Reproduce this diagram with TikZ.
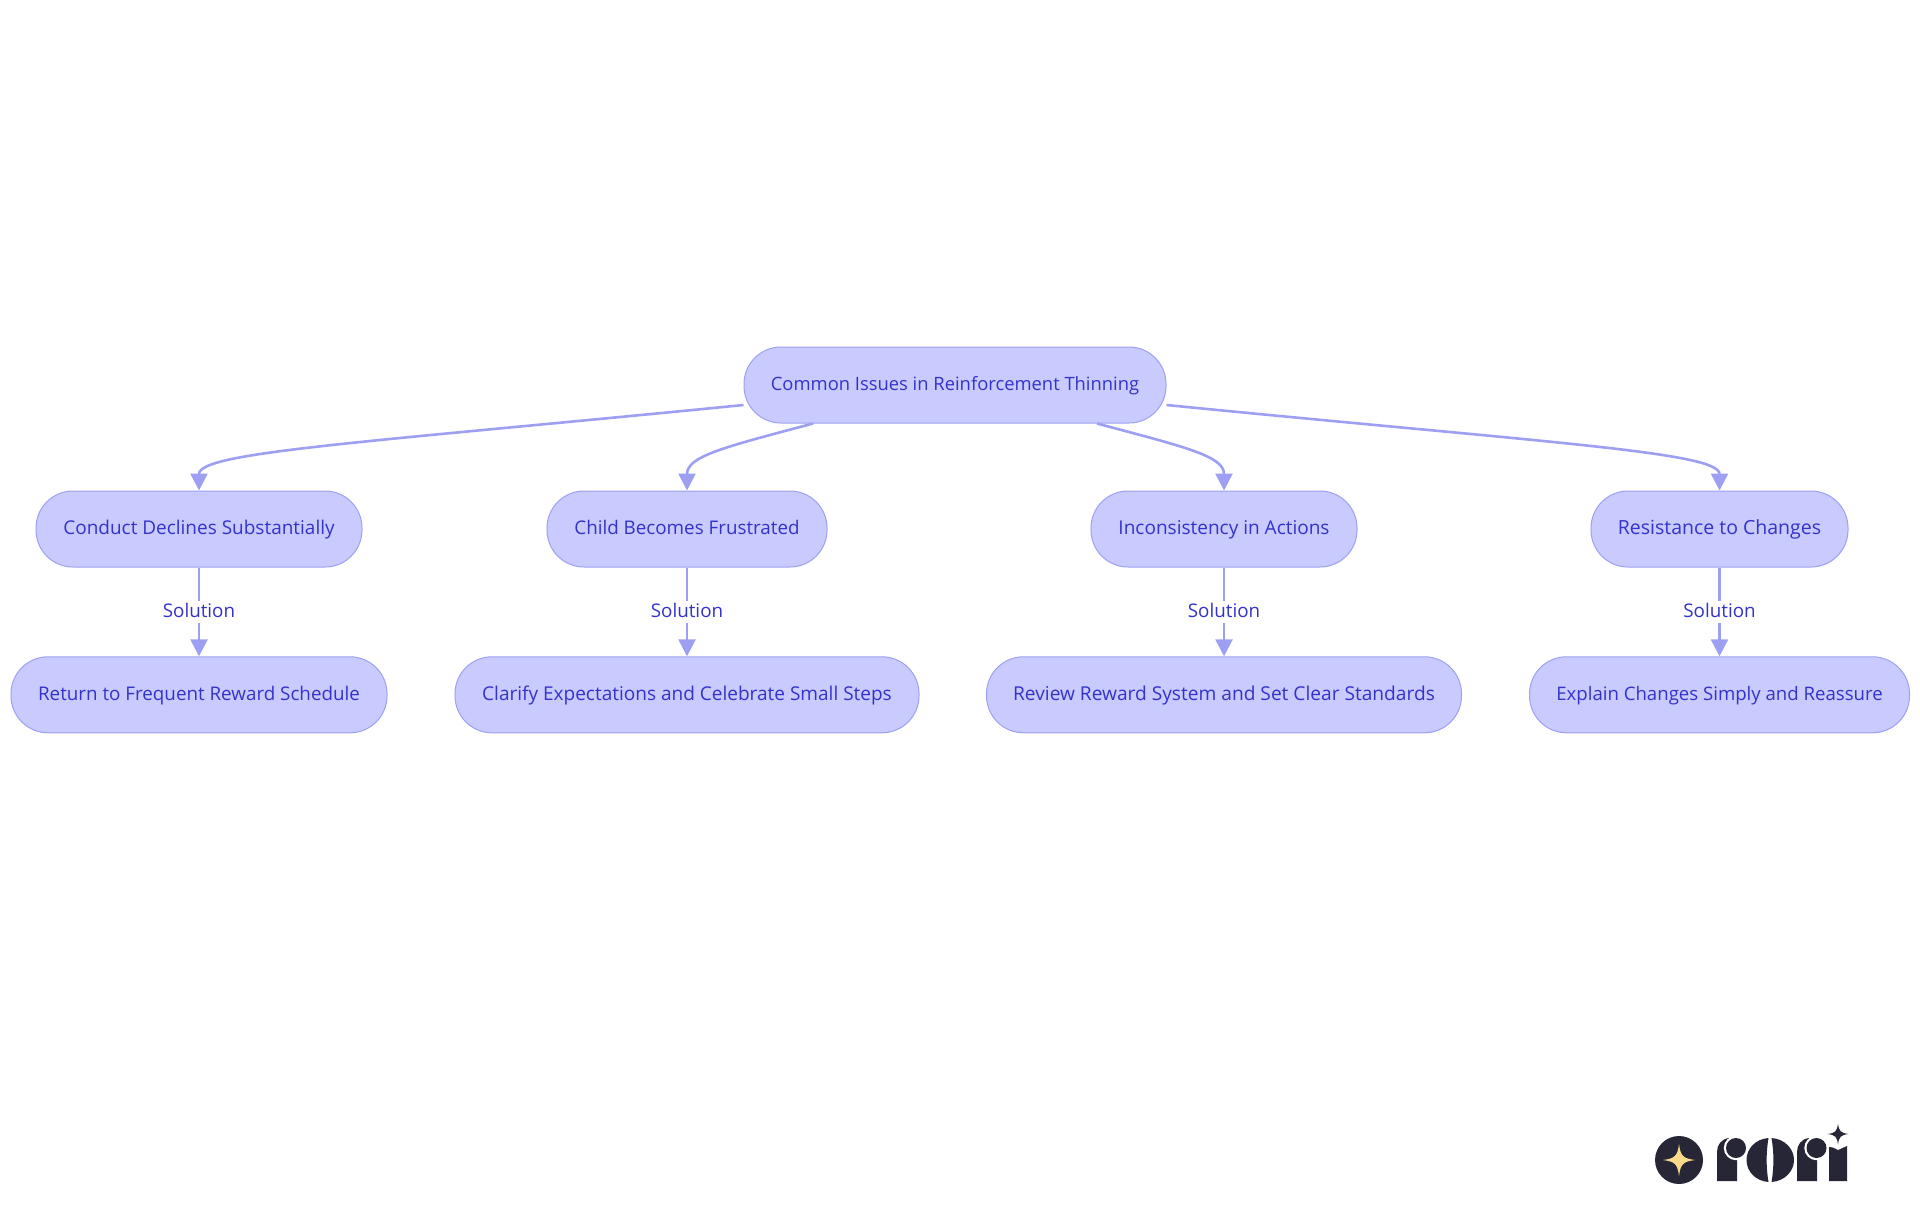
\documentclass[tikz,border=0pt]{standalone}
\usepackage{fontspec}
\setmainfont{Open Sans}
\usetikzlibrary{arrows.meta,calc}
\definecolor{nfill}{HTML}{C9CAFE}
\definecolor{nline}{HTML}{9DA0F2}
\definecolor{ntext}{HTML}{3333CC}
\definecolor{logodark}{HTML}{272636}
\definecolor{logogold}{HTML}{FBD98B}
\tikzset{
  x=0.5pt,y=-0.5pt,
  pill/.style={draw=nline,fill=nfill,line width=0.5pt,rounded corners=18.5pt,minimum height=38pt,inner sep=0pt,text=ntext,text height=7.3pt,text depth=2pt,font=\fontsize{#1}{11}\selectfont},
  link/.style={draw=nline,line width=1.3pt,-{Triangle[length=8.5pt,width=8.5pt]}},
  linklabel/.style={fill=white,text=ntext,text height=7.3pt,text depth=2pt,font=\fontsize{9.4}{11}\selectfont,inner xsep=0.5pt,inner ysep=1pt},
  logofill/.style={fill=logodark,draw=none},
}
\newcommand{\sparkle}[4]{\fill[#4] (#1-#3,#2) .. controls (#1-0.25*#3,#2-0.1*#3) and (#1-0.1*#3,#2-0.25*#3) .. (#1,#2-#3) .. controls (#1+0.1*#3,#2-0.25*#3) and (#1+0.25*#3,#2-0.1*#3) .. (#1+#3,#2) .. controls (#1+0.25*#3,#2+0.1*#3) and (#1+0.1*#3,#2+0.25*#3) .. (#1,#2+#3) .. controls (#1-0.1*#3,#2+0.25*#3) and (#1-0.25*#3,#2+0.1*#3) .. (#1-#3,#2) -- cycle;}
\begin{document}
\begin{tikzpicture}
\useasboundingbox (0,0) rectangle (1920,1215);
\node[pill=9.19,minimum width=211pt] (root) at (955,385) {Common Issues in Reinforcement Thinning};
\node[pill=9.49,minimum width=163pt] (a1) at (199,529) {Conduct Declines Substantially};
\node[pill=9.4,minimum width=140pt] (b1) at (687,529) {Child Becomes Frustrated};
\node[pill=9.51,minimum width=133pt] (c1) at (1224,529) {Inconsistency in Actions};
\node[pill=9.75,minimum width=128.5pt] (d1) at (1719.5,529) {Resistance to Changes};
\node[pill=9.4,minimum width=188pt] (a2) at (199,694.8) {Return to Frequent Reward Schedule};
\node[pill=9.51,minimum width=232pt] (b2) at (687,694.8) {Clarify Expectations and Celebrate Small Steps};
\node[pill=9.57,minimum width=237.5pt] (c2) at (1224,694.8) {Review Reward System and Set Clear Standards};
\node[pill=9.3,minimum width=190pt] (d2) at (1719.5,694.8) {Explain Changes Simply and Reassure};

\draw[link] ([yshift=-10pt]root.west) .. controls (360,443) and (199,452) .. (a1.north);
\draw[link] ([xshift=-71pt]root.south) .. controls (725,447) and (687,456) .. (b1.north);
\draw[link] ([xshift=71pt]root.south) .. controls (1185,447) and (1224,456) .. (c1.north);
\draw[link] ([yshift=-10pt]root.east) .. controls (1550,443) and (1719.5,452) .. (d1.north);

\foreach \u/\v in {a1/a2,b1/b2,c1/c2,d1/d2}{
  \draw[link] (\u) -- (\v) ;
}
\foreach \u/\v/\n in {a1/a2/la,b1/b2/lb,c1/c2/lc,d1/d2/ld}{
  \node[linklabel] (\n) at ($(\u.south)!0.5!(\v.north)$) {Solution};
}
% logo
\fill[logofill] (1679,1160) circle (24);
\sparkle{1679}{1160}{16}{logogold}
\fill[logofill] (1717,1181) -- (1717,1152) .. controls (1717,1145) and (1721,1139) .. (1729,1138) -- (1737,1150) -- (1737,1181) -- cycle;
\fill[white] (1736,1148) circle (12.2);
\fill[logofill] (1736,1148) circle (10);
\fill[logofill] (1768.5,1138) .. controls (1755,1139) and (1746.5,1149) .. (1746.5,1160) .. controls (1746.5,1171) and (1755,1181) .. (1768.5,1182) .. controls (1766,1168) and (1766,1152) .. (1768.5,1138) -- cycle;
\fill[logofill] (1771.5,1138) .. controls (1785,1139) and (1794,1149) .. (1794,1160) .. controls (1794,1171) and (1785,1181) .. (1771.5,1182) .. controls (1774,1168) and (1774,1152) .. (1771.5,1138) -- cycle;
\fill[logofill] (1797,1181) -- (1797,1152) .. controls (1797,1145) and (1801,1139) .. (1809,1138) -- (1817,1150) -- (1817,1181) -- cycle;
\fill[white] (1816.5,1148) circle (12.2);
\fill[logofill] (1816.5,1148) circle (10);
\fill[logofill] (1829,1181) -- (1829,1147) .. controls (1833,1147) and (1836,1149) .. (1838,1150) .. controls (1841,1149) and (1844,1147) .. (1847,1146) -- (1847,1181) -- cycle;
\sparkle{1838}{1134}{10.5}{logodark}
\end{tikzpicture}
\end{document}
